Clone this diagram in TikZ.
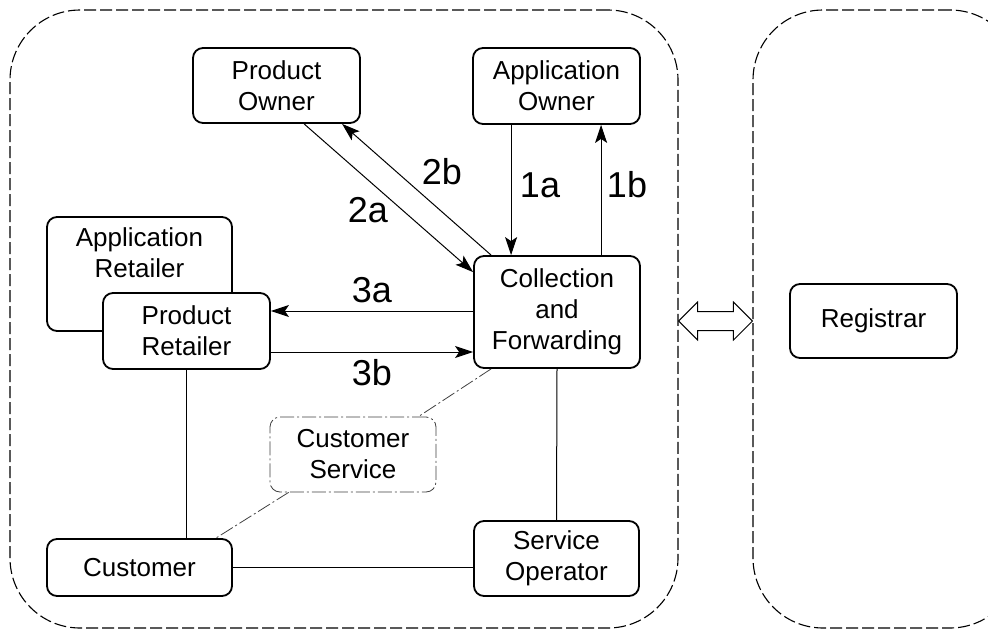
\documentclass[tikz,border=0pt]{standalone}
\usepackage{fontspec}
\setmainfont{Liberation Sans}
\usetikzlibrary{arrows.meta,calc}
\begin{document}
\begin{tikzpicture}[x=1pt,y=-1pt,
  box/.style={draw, line width=1.8pt, rounded corners=10pt, fill=white,
    align=center, inner sep=0pt, font=\fontsize{26}{31}\selectfont},
  dotbox/.style={box, line width=0.8pt, draw=black!75,
    dash pattern=on 14pt off 3pt on 2pt off 3pt},
  container/.style={draw, line width=1.1pt, rounded corners=70pt,
    dash pattern=on 12pt off 4pt, inner sep=0pt},
  link/.style={line width=1pt},
  dotlink/.style={line width=0.8pt, draw=black!75,
    dash pattern=on 14pt off 3pt on 2pt off 3pt},
  arr/.style={link, -{Stealth[length=18pt,width=12pt,inset=4pt]}},
  lbl/.style={inner sep=0pt, font=\fontsize{36}{40}\selectfont},
  txt/.style={inner sep=0pt, align=center, font=\fontsize{26}{31}\selectfont}
]
\useasboundingbox (0,0) rectangle (988,632);

% the two domains
\node[container, minimum width=668pt, minimum height=618pt] (left) at (344,319) {};
\node[container, minimum width=267pt, minimum height=618pt] (right) at (886.5,319) {};

% roles
\node[box, minimum width=167pt, minimum height=75pt] (po) at (276.5,85.5) {Product\\Owner};
\node[box, minimum width=167pt, minimum height=76pt] (ao) at (556.5,86) {Application\\Owner};
\node[box, minimum width=166pt, minimum height=112pt] (cf) at (557,312) {Collection\\and\\Forwarding};
\node[box, minimum width=185pt, minimum height=114pt] (ar) at (139.5,274) {};
\node[txt] (artext) at (139.5,253) {Application\\Retailer};
\node[box, minimum width=167pt, minimum height=76pt] (pr) at (186.5,331) {Product\\Retailer};
\node[dotbox, minimum width=166pt, minimum height=75pt] (cs) at (353,454.5) {Customer\\Service};
\node[box, minimum width=185pt, minimum height=57pt] (cust) at (139.5,567.5) {Customer};
\node[box, minimum width=165pt, minimum height=75pt] (so) at (556.5,558.5) {Service\\Operator};
\node[box, minimum width=167pt, minimum height=74pt] (reg) at (873.5,321) {Registrar};

% message flows
\draw[arr] ([xshift=39pt]ao.south west) -- ([xshift=39pt]ao.south west |- cf.north);
\draw[arr] ([xshift=128pt]cf.north west) -- ([xshift=128pt]cf.north west |- ao.south);
\draw[arr] ([xshift=112pt]po.south west) -- ([yshift=-17pt]cf.north west);
\draw[arr] ([xshift=18pt]cf.north west) -- ([xshift=150pt]po.south west);
\draw[arr] ([yshift=20pt]pr.east -| cf.west) -- ([yshift=20pt]pr.east);
\draw[arr] ([yshift=-21pt]pr.east) -- ([yshift=-21pt]pr.east -| cf.west);

\node[lbl] (l1a) at (540,185) {1a};
\node[lbl] (l1b) at (627,185) {1b};
\node[lbl] (l2a) at (368,210) {2a};
\node[lbl] (l2b) at (442,172) {2b};
\node[lbl] (l3a) at (372,290) {3a};
\node[lbl] (l3b) at (372,373) {3b};

% plain relations
\draw[link] (pr.south) -- (pr.south |- cust.north);
\draw[link] (cust.east) -- (cust.east -| so.west);
\draw[link] (cf.south) -- (so.north);
\draw[dotlink] ([xshift=18pt]cf.south west) -- ([xshift=-18pt]cs.north east);
\draw[dotlink] ([xshift=19pt]cs.south west) -- ([xshift=-17pt]cust.north east);

% interface between the domains
\coordinate (tl) at (left.east |- reg.west);
\coordinate (tr) at (right.west |- reg.west);
\draw[line width=1pt, fill=white]
  (tl) -- ++(19,-19) -- ++(0,9.5) -- ($(tr)+(-19,-9.5)$) -- ++(0,-9.5) -- (tr)
  -- ++(-19,19) -- ++(0,-9.5) -- ($(tl)+(19,9.5)$) -- ++(0,9.5) -- cycle;
\end{tikzpicture}
\end{document}
